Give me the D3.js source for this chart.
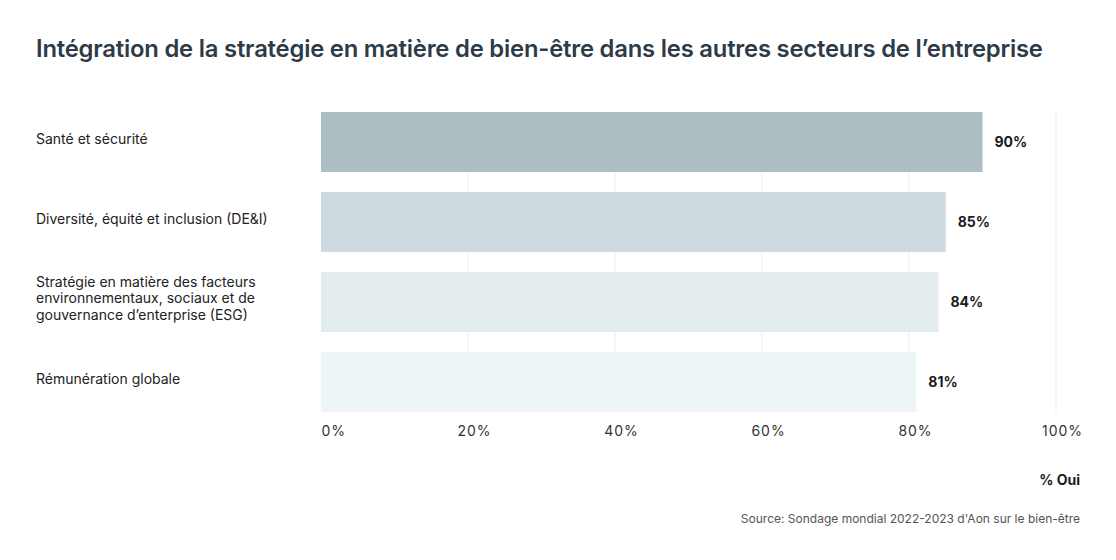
<!DOCTYPE html>
<html>
<head>
<meta charset="utf-8">
<script src="https://cdn.jsdelivr.net/npm/d3@7"></script>
<style>
  body { margin: 0; background: #fff; }
  text { font-family: Inter, "Liberation Sans", sans-serif; }
</style>
</head>
<body>
<div id="chart-area"></div>
<script>
var categories = [
    ["Santé et sécurité"],
    ["Diversité, équité et inclusion (DE&I)"],
    ["Stratégie en matière des facteurs", "environnementaux, sociaux et de", "gouvernance d’enterprise (ESG)"],
    ["Rémunération globale"]
]
var values = [90, 85, 84, 81]
var barColors = ["#adbfc2", "#cddadf", "#e3ecee", "#eef5f7"]
var ticks = [0, 20, 40, 60, 80, 100]

var width = 1116
var height = 560

var svg = d3.select("#chart-area")
    .append("svg")
    .attr("width", width)
    .attr("height", height)

svg.append("text")
    .attr("x", 36)
    .attr("y", 57)
    .attr("font-size", 23.8)
    .attr("font-weight", 600)
    .attr("fill", "#2e3b47")
    .attr("letter-spacing", "-0.2")
    .text("Intégration de la stratégie en matière de bien-être dans les autres secteurs de l’entreprise")

var keys = categories.map(function(d, i){ return i })

var x = d3.scaleLinear()
    .domain([0, 100])
    .range([321, 1056])

var y = d3.scaleBand()
    .domain(keys)
    .range([102, 422])
    .paddingInner(0.25)
    .paddingOuter(0.125)

// grid lines
svg.append("g")
    .selectAll("line")
    .data(ticks.slice(1))
    .enter().append("line")
    .attr("x1", function(d){ return x(d) })
    .attr("x2", function(d){ return x(d) })
    .attr("y1", y(0))
    .attr("y2", y(3) + y.bandwidth())
    .attr("stroke", "#e9eef0")
    .attr("stroke-width", 1)

svg.append("g")
    .selectAll("rect")
    .data(values)
    .enter().append("rect")
    .attr("x", x(0))
    .attr("y", function(d, i){ return y(i) })
    .attr("width", function(d){ return x(d) - x(0) })
    .attr("height", y.bandwidth())
    .attr("fill", function(d, i){ return barColors[i] })

svg.append("g")
    .selectAll("text")
    .data(values)
    .enter().append("text")
    .attr("x", function(d){ return x(d) + 12 })
    .attr("y", function(d, i){ return y(i) + y.bandwidth() / 2 + 5 })
    .attr("font-size", 14)
    .attr("font-weight", 700)
    .attr("fill", "#1b1b1b")
    .text(function(d){ return d + "%" })

// category labels
var labels = svg.append("g")
    .selectAll("text")
    .data(categories)
    .enter().append("text")
    .attr("font-family", "'Liberation Sans', Arial, sans-serif")
    .attr("font-size", 14)
    .attr("fill", "#222")
    .attr("y", function(d, i){
        var mid = y(i) + y.bandwidth() / 2
        return d.length === 1 ? mid + 2 : mid - (d.length - 1) * 8.25 + 1
    })

labels.selectAll("tspan")
    .data(function(d){ return d })
    .enter().append("tspan")
    .attr("x", 36)
    .attr("dy", function(d, j){ return j === 0 ? 0 : 16.5 })
    .text(function(d){ return d })

// x axis
var xAxis = d3.axisBottom(x)
    .tickValues(ticks)
    .tickSize(0)
    .tickFormat(function(d){ return d + "%" })

var axisG = svg.append("g")
    .attr("transform", "translate(0," + 422 + ")")
    .call(xAxis)

axisG.select(".domain").remove()
axisG.selectAll("text")
    .attr("font-family", "Inter, sans-serif")
    .attr("font-size", 14)
    .attr("fill", "#333")
    .attr("letter-spacing", "1")
    .attr("y", 4)
    .attr("dx", function(d){ return d === 0 ? 0 : 6 })
    .attr("text-anchor", function(d){ return d === 0 ? "start" : "middle" })

svg.append("text")
    .attr("x", 1080)
    .attr("y", 485)
    .attr("text-anchor", "end")
    .attr("font-size", 14)
    .attr("font-weight", 700)
    .attr("fill", "#1b1b1b")
    .text("% Oui")

svg.append("text")
    .attr("x", 1080)
    .attr("y", 523)
    .attr("text-anchor", "end")
    .attr("font-size", 12)
    .attr("fill", "#555")
    .text("Source: Sondage mondial 2022-2023 d'Aon sur le bien-être")
</script>
</body>
</html>
